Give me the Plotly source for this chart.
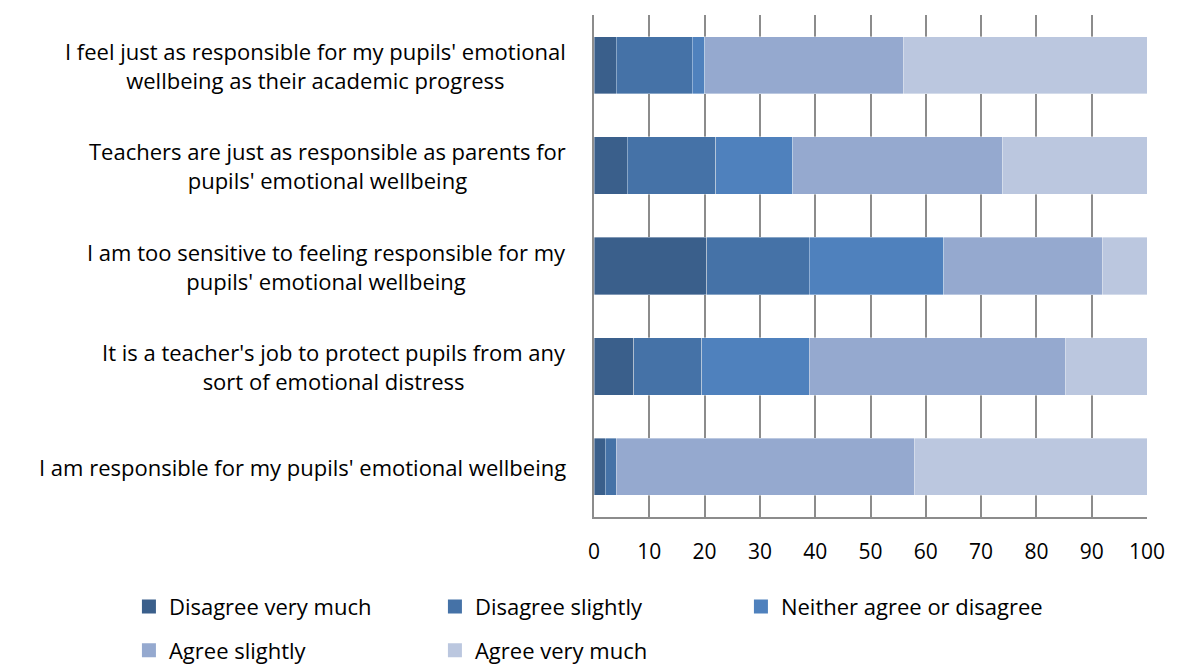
import plotly.graph_objects as go

# survey statements, bottom to top as drawn
statements = [
    "I am responsible for my pupils' emotional wellbeing",
    "It is a teacher's job to protect pupils from any<br>sort of emotional distress",
    "I am too sensitive to feeling responsible for my<br>pupils' emotional wellbeing",
    "Teachers are just as responsible as parents for<br>pupils' emotional wellbeing",
    "I feel just as responsible for my pupils' emotional<br>wellbeing as their academic progress",
]

disagree_very_much = [2.0, 7.2, 20.4, 6.0, 4.0]
disagree_slightly = [2.0, 12.3, 18.5, 16.0, 13.8]
neither = [0.0, 19.4, 24.3, 13.9, 2.2]
agree_slightly = [53.9, 46.3, 28.7, 38.0, 35.9]
agree_very_much = [42.1, 14.8, 8.1, 26.1, 44.1]

series = [
    ("Disagree very much", disagree_very_much, "#3A5F8B", "legend"),
    ("Disagree slightly", disagree_slightly, "#4572A7", "legend"),
    ("Neither agree or disagree", neither, "#4F81BD", "legend"),
    ("Agree slightly", agree_slightly, "#95A9CF", "legend2"),
    ("Agree very much", agree_very_much, "#BBC7DF", "legend2"),
]

FONT = "Open Sans"

fig = go.Figure()
for name, vals, color, leg in series:
    fig.add_trace(go.Bar(
        y=statements, x=vals, name=name, orientation="h", showlegend=False,
        marker=dict(color=color, line=dict(color="rgba(255,255,255,0.6)", width=0.6)),
    ))
    # legend-only entry so the swatch can be a bigger square
    fig.add_trace(go.Scatter(
        x=[None], y=[None], mode="markers", name=name, legend=leg,
        marker=dict(symbol="square", size=14, color=color),
    ))

# category labels: centred lines, right-aligned block next to the axis
for s in statements:
    fig.add_annotation(
        x=-0.047, xref="paper", y=s, yref="y", text=s, showarrow=False,
        xanchor="right", yanchor="middle", align="center",
        font=dict(family=FONT, size=22, color="#000000"),
    )

legend_common = dict(
    orientation="h", xanchor="left", yanchor="top",
    entrywidth=261, entrywidthmode="pixels", itemwidth=30,
    traceorder="normal", font=dict(family=FONT, size=22, color="#000000"),
    bgcolor="rgba(0,0,0,0)",
)

fig.update_layout(
    barmode="stack",
    bargap=0.43,
    width=1184, height=668,
    margin=dict(l=594, r=37, t=15, b=151, autoexpand=False),
    plot_bgcolor="white", paper_bgcolor="white",
    font=dict(family=FONT, size=21, color="#000000"),
    legend=dict(x=-0.841, y=-0.137, **legend_common),
    legend2=dict(x=-0.841, y=-0.224, **legend_common),
    xaxis=dict(
        range=[0, 100], dtick=10, showgrid=True, gridcolor="#8C8C8C", gridwidth=1.5,
        showline=True, linecolor="#8C8C8C", linewidth=1.5, ticks="", zeroline=False,
        tickfont=dict(size=21), ticklabelstandoff=15,
    ),
    yaxis=dict(
        type="category", showline=True, linecolor="#8C8C8C", linewidth=1.5,
        showticklabels=False, showgrid=False,
    ),
)

fig.write_html(
    "out.html",
    config={"displayModeBar": False},
    post_script="document.body.style.margin='0';",
)
